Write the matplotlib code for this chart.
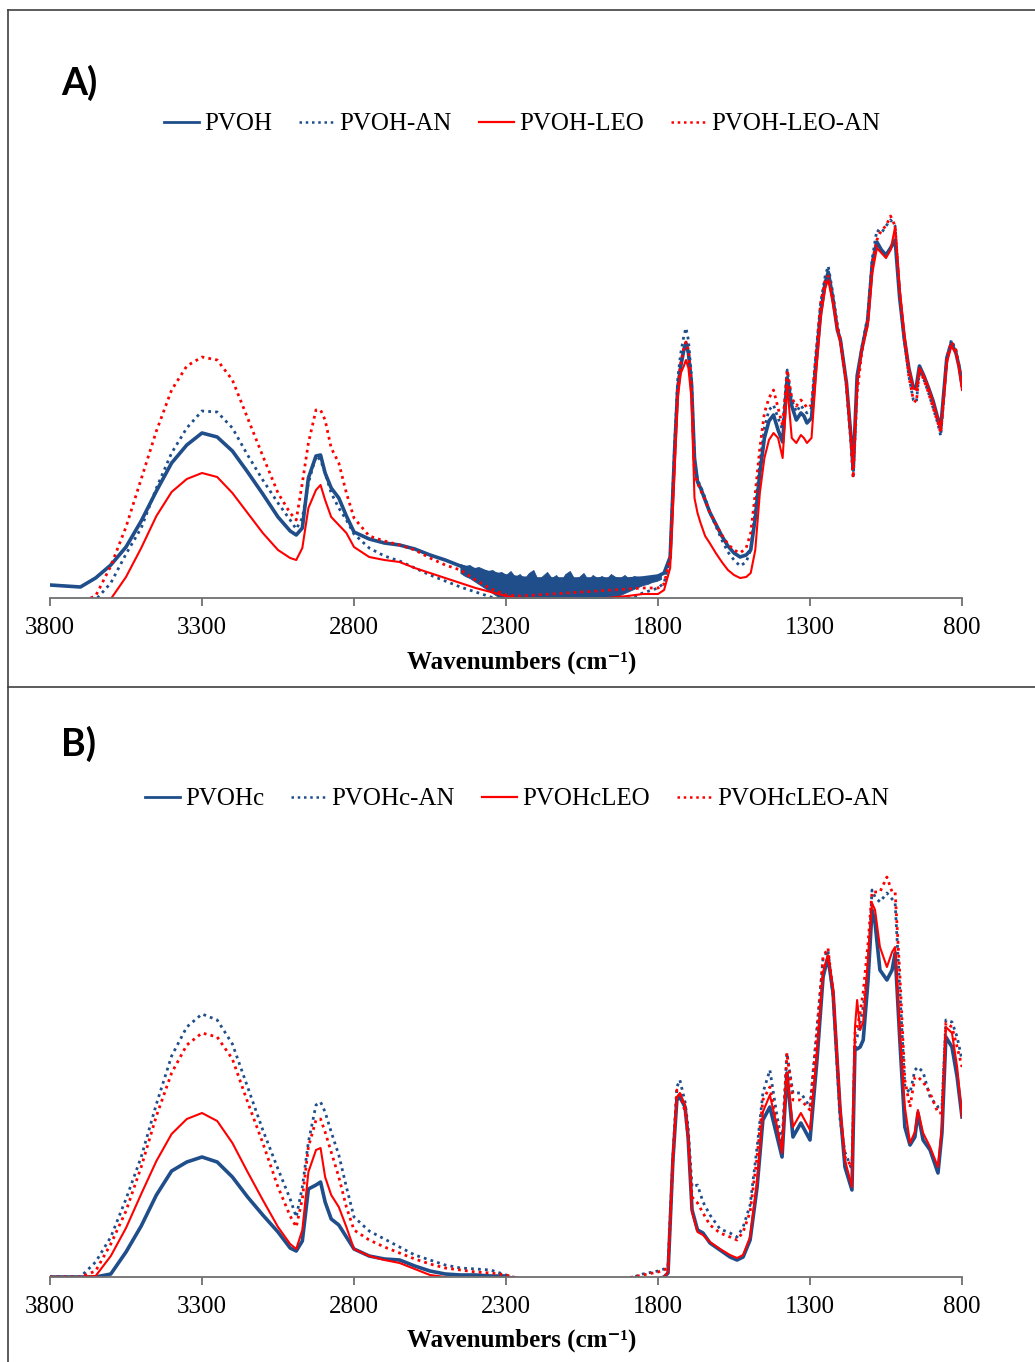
import matplotlib
matplotlib.use('Agg')
import matplotlib.pyplot as plt
from matplotlib.lines import Line2D

plt.rcParams['font.family'] = ['Liberation Serif', 'DejaVu Serif']

# ---------------- data ----------------
WN_LEFT = [3800, 3750, 3700, 3650, 3600, 3550, 3500, 3450, 3400, 3350,
           3300, 3250, 3200, 3150, 3100, 3050, 3010, 2990, 2970, 2950,
           2925, 2910, 2895, 2875, 2850, 2825, 2800, 2750, 2700, 2650,
           2600, 2550, 2500, 2450, 2400, 2350, 2300]
WN_A_MID = [2250, 2200, 2100, 2000, 1900, 1850, 1800]
WN_A_RIGHT = [1780, 1760, 1745, 1735, 1725, 1715, 1708, 1700, 1690, 1680,
              1670, 1660, 1645, 1630, 1610, 1590, 1570, 1550, 1530, 1510,
              1495, 1480, 1465, 1450, 1435, 1420, 1405, 1390, 1375, 1360,
              1345, 1330, 1320, 1310, 1295, 1280, 1265, 1250, 1240, 1225,
              1210, 1200, 1180, 1165, 1158, 1145, 1130, 1110, 1095, 1080,
              1065, 1050, 1035, 1020, 1005, 990, 975, 960, 950, 940,
              925, 910, 895, 880, 870, 860, 850, 835, 820, 810,
              800]
WN_B_MID = [2250, 2200, 2100, 2000, 1900]
WN_B_RIGHT = [1850, 1800, 1780, 1767, 1751, 1738, 1728, 1711, 1701, 1688,
              1670, 1652, 1629, 1596, 1563, 1540, 1520, 1497, 1474, 1455,
              1432, 1408, 1392, 1376, 1356, 1330, 1300, 1277, 1257, 1241,
              1224, 1201, 1185, 1162, 1152, 1145, 1135, 1125, 1109, 1096,
              1086, 1070, 1047, 1030, 1020, 1004, 988, 971, 955, 945,
              928, 905, 879, 866, 853, 833, 816, 800]

# Panel A (absorbance, arbitrary units)
PVOH = [13, 12, 11, 20, 33, 51, 77, 107, 135, 153,
        165, 161, 147, 126, 104, 81, 67, 63, 70, 120,
        142, 143, 125, 110, 100, 82, 66, 59, 55, 53,
        49, 43, 38, 32, 28, 25, 22,
        20, 19, 19, 19, 19, 20, 22,
        25, 41, 150, 210, 232, 248, 255, 245, 215, 140,
        116, 110, 98, 86, 74, 62, 52, 45, 41, 43,
        48, 80, 125, 160, 177, 183, 168, 156, 220, 192,
        178, 185, 182, 175, 180, 235, 285, 315, 326, 300,
        268, 258, 215, 160, 128, 222, 248, 278, 335, 356,
        348, 343, 350, 358, 300, 260, 230, 210, 212, 232,
        222, 210, 197, 180, 170, 205, 240, 255, 245, 232,
        213]
PVOH_AN = [-5, -5, -5, -2, 15, 44, 70, 110, 145, 170,
           187, 186, 170, 143, 118, 95, 78, 69, 80, 115,
           142, 138, 125, 105, 90, 78, 64, 50, 42, 37,
           30, 23, 17, 11, 6, 1, -3,
           -5, -5, -5, -4, -1, 5, 10,
           15, 40, 155, 220, 245, 262, 270, 258, 222, 135,
           118, 112, 100, 86, 72, 58, 46, 38, 32, 36,
           48, 90, 135, 170, 188, 193, 180, 168, 228, 198,
           186, 193, 188, 185, 190, 245, 295, 322, 332, 305,
           272, 258, 212, 155, 122, 215, 250, 282, 340, 368,
           365, 372, 378, 372, 305, 258, 222, 198, 196, 228,
           218, 205, 190, 175, 162, 200, 240, 258, 248, 232,
           215]
PVOH_LEO = [-8, -8, -6, -4, -1, 21, 50, 82, 106, 119,
            125, 121, 105, 85, 65, 48, 40, 38, 50, 90,
            108, 113, 98, 81, 73, 65, 51, 41, 38, 36,
            30, 25, 20, 15, 10, 6, 2,
            -1, -2, -2, -1, 2, 4, 4,
            8, 30, 130, 200, 225, 232, 238, 230, 200, 100,
            85, 75, 62, 55, 45, 36, 28, 23, 20, 21,
            25, 48, 105, 140, 158, 165, 160, 140, 213, 160,
            155, 163, 160, 155, 160, 225, 280, 310, 318, 295,
            268, 255, 215, 160, 131, 215, 248, 272, 325, 350,
            345, 340, 348, 371, 310, 265, 230, 210, 208, 230,
            222, 210, 196, 180, 168, 200, 235, 252, 245, 230,
            208]
PVOH_LEO_AN = [-8, -6, -4, 2, 32, 71, 119, 167, 208, 232,
               241, 238, 218, 180, 142, 105, 85, 78, 115, 155,
               188, 188, 178, 150, 135, 105, 80, 62, 57, 53,
               48, 40, 33, 28, 18, 9, 3,
               2, 3, 5, 7, 9, 10, 10,
               14, 40, 145, 210, 235, 250, 256, 248, 215, 125,
               115, 108, 98, 86, 74, 63, 54, 48, 45, 50,
               65, 105, 150, 185, 200, 208, 190, 172, 228, 200,
               192, 198, 195, 190, 193, 245, 295, 318, 322, 300,
               272, 258, 212, 155, 120, 205, 245, 278, 335, 358,
               368, 372, 382, 372, 305, 258, 222, 198, 196, 228,
               218, 205, 190, 176, 165, 200, 240, 256, 248, 232,
               212]
# noisy stretch of the PVOH trace (lower / upper envelope, every 15 cm-1)
NOISE_WN = [2450 - 15 * i for i in range(45)]
NOISE_HI = [34, 32, 33, 30, 31, 29, 27, 28, 25, 26,
            23, 27, 21, 24, 19, 25, 28, 18, 22, 26,
            20, 23, 17, 24, 27, 19, 21, 25, 18, 23,
            20, 22, 19, 24, 21, 20, 23, 19, 22, 21,
            20, 22, 21, 23, 24]
NOISE_LO = [25, 22, 20, 17, 14, 11, 8, 5, 2,
            0, 0, 0, 0, 0, 0, 0, 0, 0, 0, 0, 0, 0, 0, 0, 0,
            0, 0, 0, 0, 0, 0, 0, 0, 0,
            1, 3, 5, 7, 9, 11, 13, 14, 16, 17, 19]

# Panel B
PVOHC = [0, 0, 0, 0, 3, 25, 51, 82, 106, 115,
         120, 115, 100, 80, 62, 45, 29, 26, 36, 88,
         92, 95, 75, 58, 52, 40, 28, 21, 18, 17,
         11, 6, 3, 2, 2, 1, 1,
         -5, -5, -5, -5, -5,
         -5, -2, 0, 4, 117, 177, 180, 170, 140, 67,
         47, 44, 34, 27, 20, 17, 20, 37, 90, 157,
         170, 140, 120, 204, 140, 154, 137, 217, 300, 320,
         284, 167, 110, 87, 230, 228, 230, 237, 297, 367,
         354, 307, 297, 307, 324, 234, 150, 132, 140, 164,
         137, 127, 104, 144, 240, 230, 200, 160]
PVOHC_AN = [0, 0, 0, 15, 40, 78, 120, 173, 221, 250,
            263, 257, 233, 190, 147, 108, 78, 60, 90, 135,
            172, 175, 165, 145, 122, 90, 60, 46, 38, 30,
            22, 17, 12, 9, 8, 7, 2,
            -3, -5, -5, -5, -2,
            3, 6, 8, 10, 120, 190, 197, 175, 150, 90,
            92, 75, 62, 48, 44, 40, 50, 72, 130, 184,
            207, 160, 134, 224, 184, 184, 170, 250, 318, 327,
            280, 157, 125, 107, 234, 240, 254, 270, 307, 387,
            380, 375, 384, 378, 374, 284, 190, 184, 207, 210,
            205, 180, 170, 170, 257, 255, 240, 217]
PVOHC_LEO = [0, 0, 0, 1, 21, 49, 83, 116, 143, 158,
             164, 156, 134, 105, 77, 50, 33, 28, 47, 105,
             127, 129, 100, 82, 70, 50, 28, 21, 17, 14,
             8, 2, 0, -2, -3, -4, -5,
             -5, -5, -5, -5, -5,
             -5, -3, 0, 5, 120, 180, 184, 172, 142, 65,
             45, 42, 35, 28, 22, 19, 22, 40, 95, 165,
             182, 150, 124, 204, 150, 164, 147, 225, 305, 322,
             288, 172, 117, 90, 250, 277, 247, 255, 320, 374,
             367, 330, 310, 325, 330, 240, 170, 134, 145, 167,
             144, 130, 110, 150, 250, 244, 210, 160]
PVOHC_LEO_AN = [0, 0, 0, 6, 33, 66, 110, 161, 204, 232,
                244, 240, 218, 175, 134, 90, 61, 50, 78, 130,
                157, 158, 145, 125, 100, 70, 47, 37, 30, 24,
                18, 13, 9, 7, 5, 4, 2,
                -2, -5, -5, -5, -1,
                2, 5, 7, 9, 115, 187, 184, 165, 140, 80,
                74, 64, 52, 44, 40, 37, 45, 65, 120, 177,
                190, 150, 127, 224, 177, 177, 167, 244, 320, 329,
                284, 164, 120, 110, 244, 250, 264, 285, 334, 385,
                385, 385, 400, 385, 385, 300, 197, 170, 200, 200,
                195, 184, 164, 164, 254, 250, 230, 210]

XTICKS = [3800, 3300, 2800, 2300, 1800, 1300, 800]
LABELS_A = ['PVOH', 'PVOH-AN', 'PVOH-LEO', 'PVOH-LEO-AN']
LABELS_B = ['PVOHc', 'PVOHc-AN', 'PVOHcLEO', 'PVOHcLEO-AN']

WN_A = WN_LEFT + WN_A_MID + WN_A_RIGHT
WN_B = WN_LEFT + WN_B_MID + WN_B_RIGHT
for s in (PVOH, PVOH_AN, PVOH_LEO, PVOH_LEO_AN):
    assert len(s) == len(WN_A), (len(s), len(WN_A))
for s in (PVOHC, PVOHC_AN, PVOHC_LEO, PVOHC_LEO_AN):
    assert len(s) == len(WN_B), (len(s), len(WN_B))
assert len(NOISE_HI) == len(NOISE_WN) == len(NOISE_LO)

# ---------------- styles ----------------
BLUE = '#1F4E8A'
RED = '#FF0000'
DOT = (0, (1, 1.5))
styles = [dict(color=BLUE, lw=2.6, ls='-'),
          dict(color=BLUE, lw=2.0, ls=DOT),
          dict(color=RED, lw=1.5, ls='-'),
          dict(color=RED, lw=2.0, ls=DOT)]
leg_styles = [dict(color=BLUE, lw=2.0, ls='-'),
              dict(color=BLUE, lw=1.8, ls=DOT),
              dict(color=RED, lw=1.6, ls='-'),
              dict(color=RED, lw=1.8, ls=DOT)]

W, H = 1035, 1362
fig = plt.figure(figsize=(W / 100, H / 100), dpi=100)


def rect(left, right, bottom, top):
    return [left / W, 1 - bottom / H, (right - left) / W, (bottom - top) / H]


axA = fig.add_axes(rect(50, 962, 598, 150))
axB = fig.add_axes(rect(50, 962, 1277, 829))

axA.fill_between(NOISE_WN, NOISE_LO, NOISE_HI, color=BLUE, lw=0.6)
for series, st in zip((PVOH, PVOH_AN, PVOH_LEO, PVOH_LEO_AN), styles):
    axA.plot(WN_A, series, solid_joinstyle='round', **st)
for series, st in zip((PVOHC, PVOHC_AN, PVOHC_LEO, PVOHC_LEO_AN), styles):
    axB.plot(WN_B, series, solid_joinstyle='round', **st)

for ax in (axA, axB):
    ax.set_xlim(3800, 800)
    ax.set_ylim(0, 448)
    for sp in ('left', 'right', 'top'):
        ax.spines[sp].set_visible(False)
    ax.spines['bottom'].set_color('#6f6f6f')
    ax.spines['bottom'].set_linewidth(1.3)
    ax.set_xticks(XTICKS)
    ax.set_xticklabels([str(t) for t in XTICKS])
    ax.tick_params(axis='x', direction='out', length=6, width=1.3,
                   color='#6f6f6f', labelsize=18, pad=8, labelcolor='black')
    ax.set_yticks([])
    ax.patch.set_alpha(0)


def legend(labels, cx, cy):
    handles = [Line2D([], [], **st) for st in leg_styles]
    fig.legend(handles, labels, loc='center', bbox_to_anchor=(cx / W, 1 - cy / H),
               ncol=4, frameon=False, fontsize=18, handlelength=1.4,
               handletextpad=0.2, columnspacing=1.1)


legend(LABELS_A, 522, 124)
legend(LABELS_B, 517, 799)

xlab = 'Wavenumbers (cm\u207b\u00b9)'
for y in (662, 1340):
    fig.text(522 / W, 1 - y / H, xlab, ha='center', va='center', fontsize=18,
             fontweight='bold', family=['Liberation Serif', 'DejaVu Serif'])

fig.text(79 / W, 1 - 83 / H, 'A)', ha='center', va='center', fontsize=27,
         fontweight='bold', family=['Lato', 'DejaVu Sans'])
fig.text(79 / W, 1 - 744 / H, 'B)', ha='center', va='center', fontsize=27,
         fontweight='bold', family=['Lato', 'DejaVu Sans'])

# panel frames
frame = dict(transform=fig.transFigure, color='#404040', lw=1.2)
fig.add_artist(Line2D([8 / W, 8 / W], [0, 1 - 10 / H], **frame))
fig.add_artist(Line2D([8 / W, 1], [1 - 10 / H, 1 - 10 / H], **frame))
fig.add_artist(Line2D([8 / W, 1], [1 - 687 / H, 1 - 687 / H], **frame))

fig.savefig('out.png', dpi=100)
